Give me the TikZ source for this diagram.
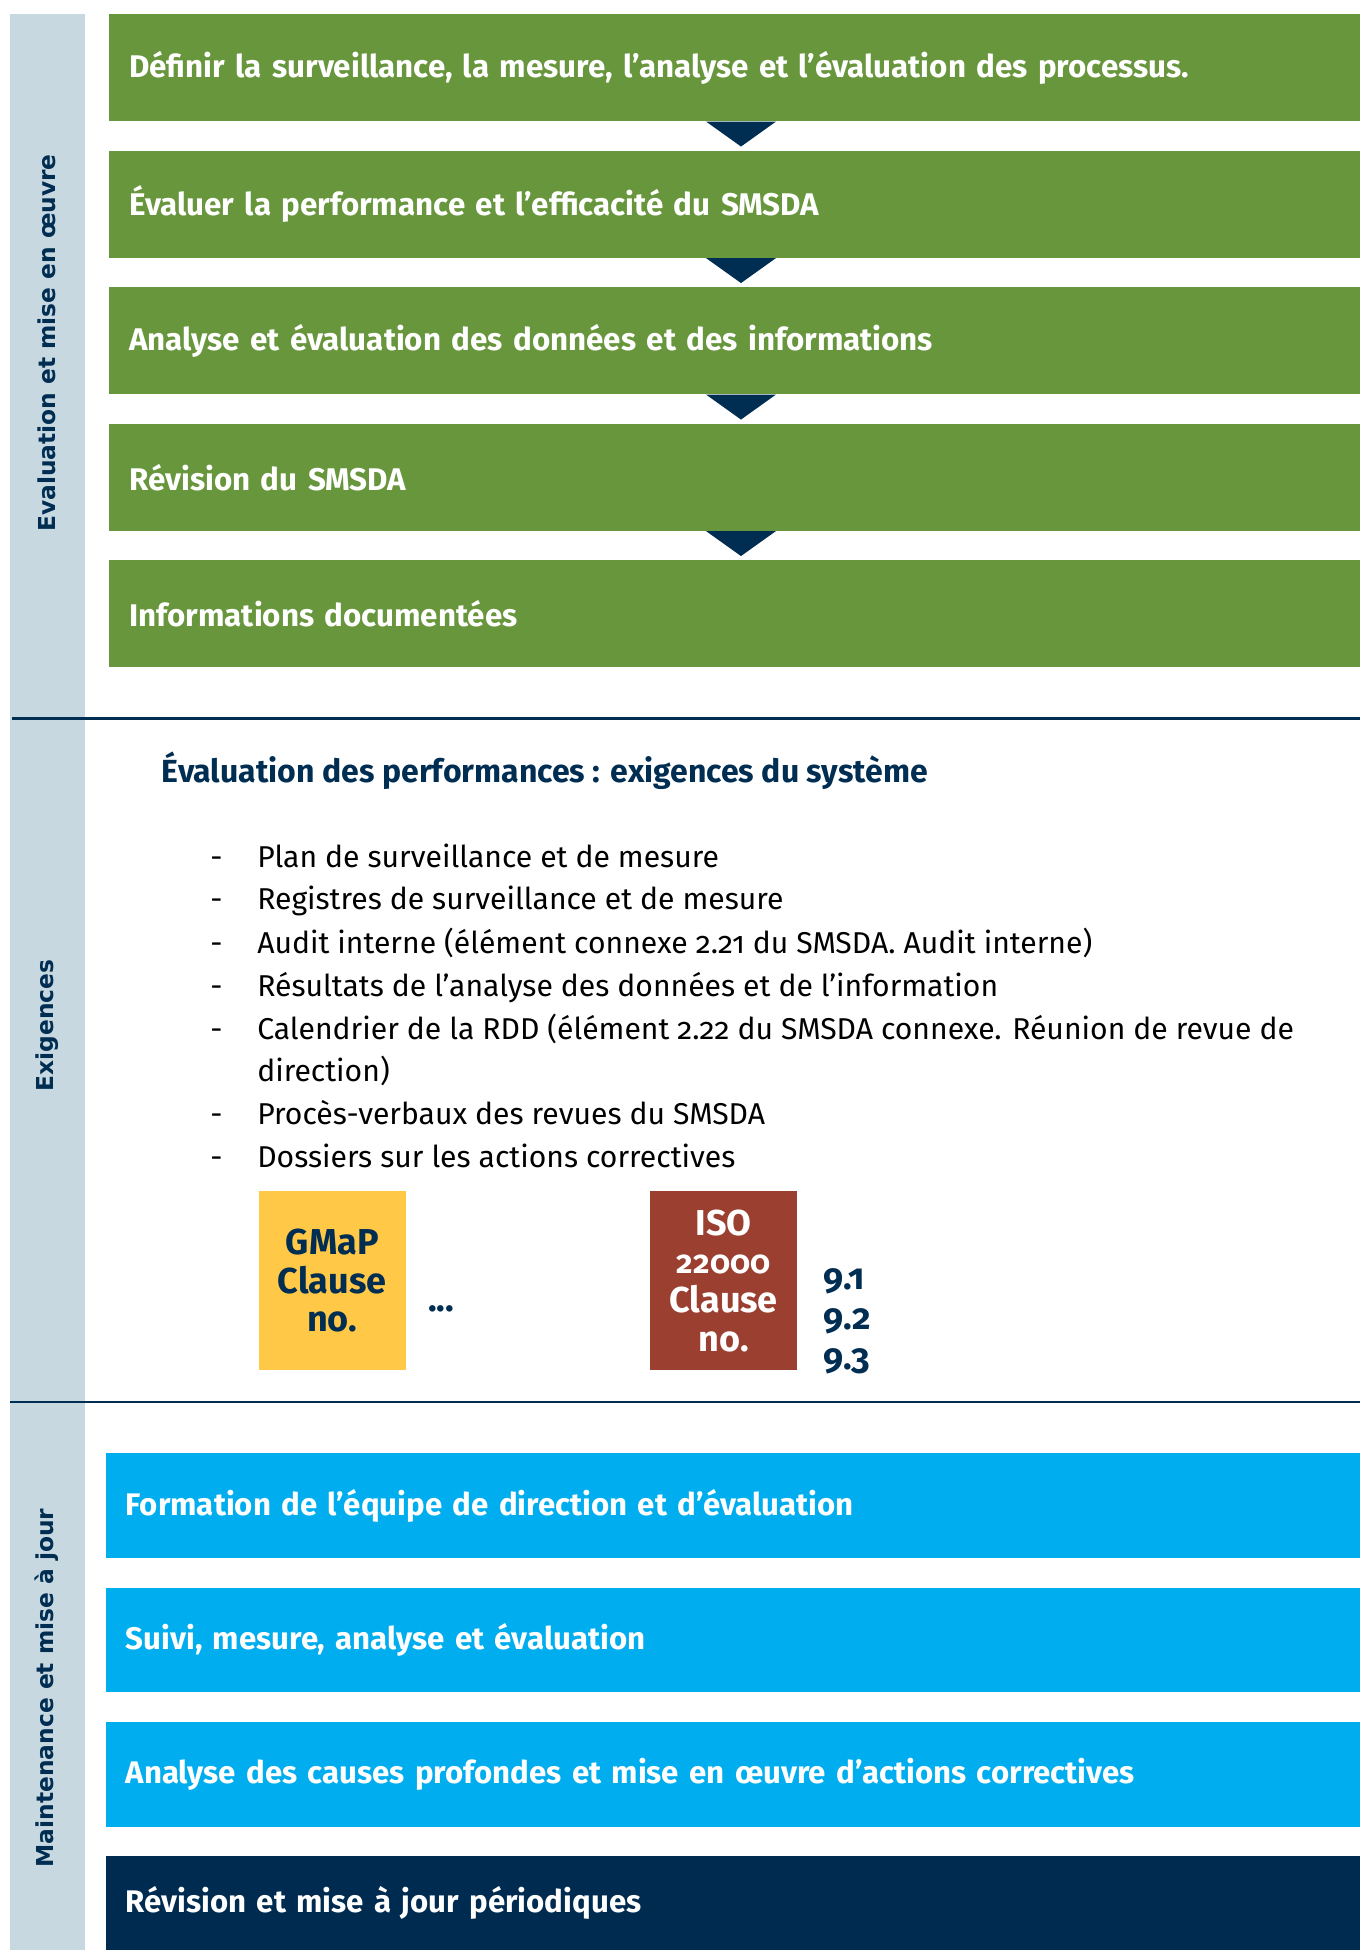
\documentclass[tikz,border=0pt]{standalone}
\usepackage{fontspec}
\setmainfont{Fira Sans}[Numbers=OldStyle]
\newfontfamily\sidefont{DejaVu Sans}
\usetikzlibrary{calc}
\definecolor{sidecol}{HTML}{C8D8E0}
\definecolor{greencol}{HTML}{68963C}
\definecolor{navycol}{HTML}{002D52}
\definecolor{bluecol}{HTML}{00AEEF}
\definecolor{darkcol}{HTML}{002B50}
\definecolor{yellowcol}{HTML}{FFC846}
\definecolor{browncol}{HTML}{9B4031}
\tikzset{
 gbox/.style={fill=greencol, anchor=north west, minimum width=938.25pt, minimum height=80.25pt,
   text width=908.25pt, inner xsep=15pt, inner ysep=0pt, align=left, text=white,
   font=\bfseries\fontsize{23.5}{27}\selectfont},
 bbox/.style={fill=bluecol, anchor=north west, minimum width=940.5pt, minimum height=78.4pt,
   text width=911.25pt, inner xsep=14.6pt, inner ysep=0pt, align=left, text=white,
   font=\bfseries\fontsize{23.4}{27}\selectfont},
 tri/.style={fill=navycol},
 sepline/.style={draw=navycol, line width=1.9pt},
 sidelabel/.style={rotate=90, text=navycol, inner sep=0pt, font=\sidefont\bfseries\fontsize{17.5}{22}\selectfont},
 item/.style={anchor=base west, text=black, inner sep=0pt, font=\fontsize{22.6}{32}\selectfont},
 clausebox/.style={anchor=north west, minimum width=110pt, minimum height=134.25pt, inner sep=0pt, align=center,
   font=\bfseries\fontsize{27}{29}\selectfont},
 navytext/.style={text=navycol, inner sep=0pt, font=\bfseries\fontsize{27}{30}\selectfont},
}
\begin{document}
\begin{tikzpicture}[x=0.75pt,y=-0.75pt]
\useasboundingbox (0,0) rectangle (1360,1950);
\fill[sidecol] (10,14) rectangle (85,1950);

% green steps
\node[gbox] (g1) at (109,14) {Définir la surveillance, la mesure, l’analyse et l’évaluation des processus.};
\node[gbox] (g2) at (109,150.5) {Évaluer la performance et l’efficacité du SMSDA};
\node[gbox] (g3) at (109,287) {Analyse et évaluation des données et des informations};
\node[gbox] (g4) at (109,423.5) {Révision du SMSDA};
\node[gbox] (g5) at (109,560) {Informations documentées};
\foreach \b in {g1,g2,g3,g4}{
  \fill[tri] ($(\b.south west)+(597,0)$) -- ++(70,0) -- ++(-35,25) -- cycle;
}

% separators
\coordinate (s1a) at (12,718.5); \coordinate (s1b) at (1360,718.5);
\coordinate (s2a) at (10,1402); \coordinate (s2b) at (1360,1402);
\draw[sepline] (s1a) -- (s1b);
\draw[sepline] (s2a) -- (s2b);

% requirements
\node[anchor=west, inner sep=0pt, text=navycol, font=\bfseries\fontsize{24}{28}\selectfont] (hd) at (161.6,770.7)
  {Évaluation des performances : exigences du système};
\foreach \yy/\nm in {867/d1,909.5/d2,953/d3,996.5/d4,1039/d5,1124.5/d6,1167/d7}{
  \node[item] (\nm) at (210,\yy) {-};
}
\node[item] (i1) at (257,867) {Plan de surveillance et de mesure};
\node[item] (i2) at (257,909.5) {Registres de surveillance et de mesure};
\node[item] (i3) at (257,953) {Audit interne (élément connexe 2.21 du SMSDA. Audit interne)};
\node[item] (i4) at (257,996.5) {Résultats de l’analyse des données et de l’information};
\node[item] (i5) at (257,1039) {Calendrier de la RDD (élément 2.22 du SMSDA connexe. Réunion de revue de};
\node[item] (i5b) at (257,1081) {direction)};
\node[item] (i6) at (257,1124.5) {Procès-verbaux des revues du SMSDA};
\node[item] (i7) at (257,1167) {Dossiers sur les actions correctives};

\node[clausebox, fill=yellowcol, text=navycol] (gmap) at (258.6,1191) {GMaP\\Clause\\no.};
\node[navytext] (dots) at (441,1309) {...};
\node[clausebox, fill=browncol, text=white] (iso) at (650,1191)
  {ISO\\{\fontsize{24}{30}\selectfont 22000}\\Clause\\no.};
\node[navytext, anchor=west, align=left] (nums) at (823,1321) {9.1\\9.2\\9.3};

% maintenance
\node[bbox] (m1) at (106,1453) {Formation de l’équipe de direction et d’évaluation};
\node[bbox] (m2) at (106,1587.5) {Suivi, mesure, analyse et évaluation};
\node[bbox] (m3) at (106,1722) {Analyse des causes profondes et mise en œuvre d’actions correctives};
\node[bbox, fill=darkcol, minimum height=70.5pt] (m4) at (106,1856) {Révision et mise à jour périodiques};

% side labels
\node[sidelabel] (l1) at (47,343) {Evaluation et mise en œuvre};
\node[sidelabel] (l2) at (47,1025.5) {Exigences};
\node[sidelabel] (l3) at (47,1688) {Maintenance et mise à jour};
\end{tikzpicture}
\end{document}
